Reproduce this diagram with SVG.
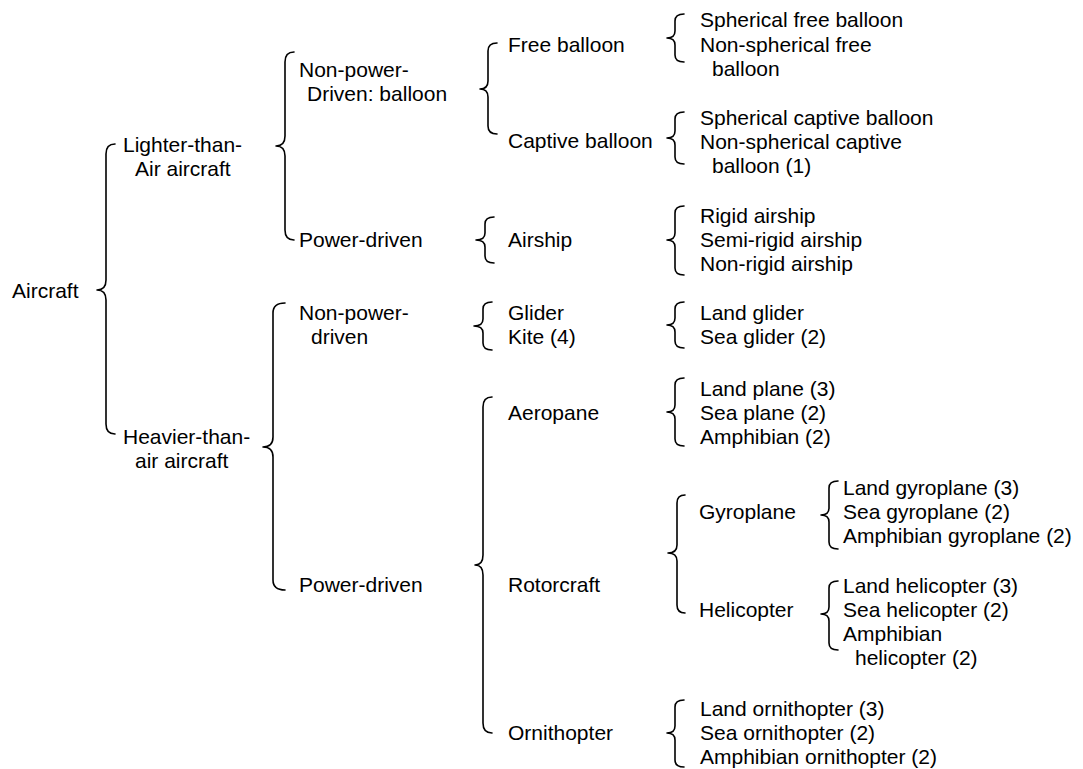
<svg xmlns="http://www.w3.org/2000/svg" width="1083" height="769" viewBox="0 0 1083 769">
<style>
text{font-family:"Liberation Sans",Arial,sans-serif;font-size:21px;fill:#000}
.b{fill:none;stroke:#000;stroke-width:1.6;stroke-linecap:round;stroke-linejoin:round}
</style>
<rect width="1083" height="769" fill="#fff"/>
<g id="connectors">
<path class="b" d="M115 144 Q106 144 106 154 L106 280 Q106 290 97 290 Q106 290 106 300 L106 424 Q106 434 115 434"/>
<path class="b" d="M294 52 Q285 52 285 62 L285 136 Q285 146 276 146 Q285 146 285 156 L285 230 Q285 240 294 240"/>
<path class="b" d="M285 303 Q273 303 273 313 L273 437 Q273 447 263 447 Q273 447 273 457 L273 580 Q273 590 285 590"/>
<path class="b" d="M497 43 Q488 43 488 51 L488 81 Q488 89 480 89 Q488 89 488 97 L488 126 Q488 134 497 134"/>
<path class="b" d="M494 217 Q485 217 485 224 L485 233 Q485 240 476 240 Q485 240 485 247 L485 256 Q485 263 494 263"/>
<path class="b" d="M492 302 Q483 302 483 309 L483 319 Q483 326 474 326 Q483 326 483 333 L483 343 Q483 350 492 350"/>
<path class="b" d="M492 397 Q483 397 483 407 L483 555 Q483 565 475 565 Q483 565 483 575 L483 723 Q483 733 492 733"/>
<path class="b" d="M684 14 Q675 14 675 21 L675 31 Q675 38 667 38 Q675 38 675 45 L675 55 Q675 62 684 62"/>
<path class="b" d="M684 112 Q675 112 675 119 L675 131 Q675 138 667 138 Q675 138 675 145 L675 157 Q675 164 684 164"/>
<path class="b" d="M684 206 Q675 206 675 213 L675 233 Q675 240 667 240 Q675 240 675 247 L675 268 Q675 275 684 275"/>
<path class="b" d="M684 302 Q675 302 675 309 L675 318 Q675 325 667 325 Q675 325 675 332 L675 341 Q675 348 684 348"/>
<path class="b" d="M684 378 Q675 378 675 385 L675 405 Q675 412 667 412 Q675 412 675 419 L675 439 Q675 446 684 446"/>
<path class="b" d="M685 495 Q677 495 677 503 L677 545 Q677 553 668 553 Q677 553 677 561 L677 605 Q677 613 685 613"/>
<path class="b" d="M838 481 Q829 481 829 488 L829 508 Q829 515 821 515 Q829 515 829 522 L829 542 Q829 549 838 549"/>
<path class="b" d="M838 581 Q829 581 829 588 L829 607 Q829 614 821 614 Q829 614 829 621 L829 643 Q829 650 838 650"/>
<path class="b" d="M684 700 Q675 700 675 707 L675 726 Q675 733 667 733 Q675 733 675 740 L675 760 Q675 767 684 767"/>
</g>
<g id="aircraft"><text x="12" y="298">Aircraft</text></g>
<g id="lighter"><text x="123" y="152">Lighter-than-</text><text x="135" y="176">Air aircraft</text></g>
<g id="heavier"><text x="123" y="444">Heavier-than-</text><text x="135" y="468">air aircraft</text></g>
<g id="lta-nonpower"><text x="299" y="77">Non-power-</text><text x="307" y="101">Driven: balloon</text></g>
<g id="lta-power"><text x="299" y="247">Power-driven</text></g>
<g id="hta-nonpower"><text x="299" y="320">Non-power-</text><text x="311" y="344">driven</text></g>
<g id="hta-power"><text x="299" y="592">Power-driven</text></g>
<g id="free-balloon"><text x="508" y="52">Free balloon</text></g>
<g id="captive-balloon"><text x="508" y="148">Captive balloon</text></g>
<g id="airship"><text x="508" y="247">Airship</text></g>
<g id="glider"><text x="508" y="320">Glider</text></g>
<g id="kite"><text x="508" y="344">Kite (4)</text></g>
<g id="aeropane"><text x="508" y="420">Aeropane</text></g>
<g id="rotorcraft"><text x="508" y="592">Rotorcraft</text></g>
<g id="ornithopter"><text x="508" y="740">Ornithopter</text></g>
<g id="free-types"><text x="700" y="27">Spherical free balloon</text><text x="700" y="52">Non-spherical free</text><text x="712" y="76">balloon</text></g>
<g id="captive-types"><text x="700" y="125">Spherical captive balloon</text><text x="700" y="149">Non-spherical captive</text><text x="712" y="173">balloon (1)</text></g>
<g id="airship-types"><text x="700" y="223">Rigid airship</text><text x="700" y="247">Semi-rigid airship</text><text x="700" y="271">Non-rigid airship</text></g>
<g id="glider-types"><text x="700" y="320">Land glider</text><text x="700" y="344">Sea glider (2)</text></g>
<g id="plane-types"><text x="700" y="396">Land plane (3)</text><text x="700" y="420">Sea plane (2)</text><text x="700" y="444">Amphibian (2)</text></g>
<g id="gyroplane"><text x="699" y="519">Gyroplane</text></g>
<g id="helicopter"><text x="699" y="617">Helicopter</text></g>
<g id="gyroplane-types"><text x="843" y="495">Land gyroplane (3)</text><text x="843" y="519">Sea gyroplane (2)</text><text x="843" y="543">Amphibian gyroplane (2)</text></g>
<g id="helicopter-types"><text x="843" y="593">Land helicopter (3)</text><text x="843" y="617">Sea helicopter (2)</text><text x="843" y="641">Amphibian</text><text x="855" y="665">helicopter (2)</text></g>
<g id="ornithopter-types"><text x="700" y="716">Land ornithopter (3)</text><text x="700" y="740">Sea ornithopter (2)</text><text x="700" y="764">Amphibian ornithopter (2)</text></g>
</svg>
